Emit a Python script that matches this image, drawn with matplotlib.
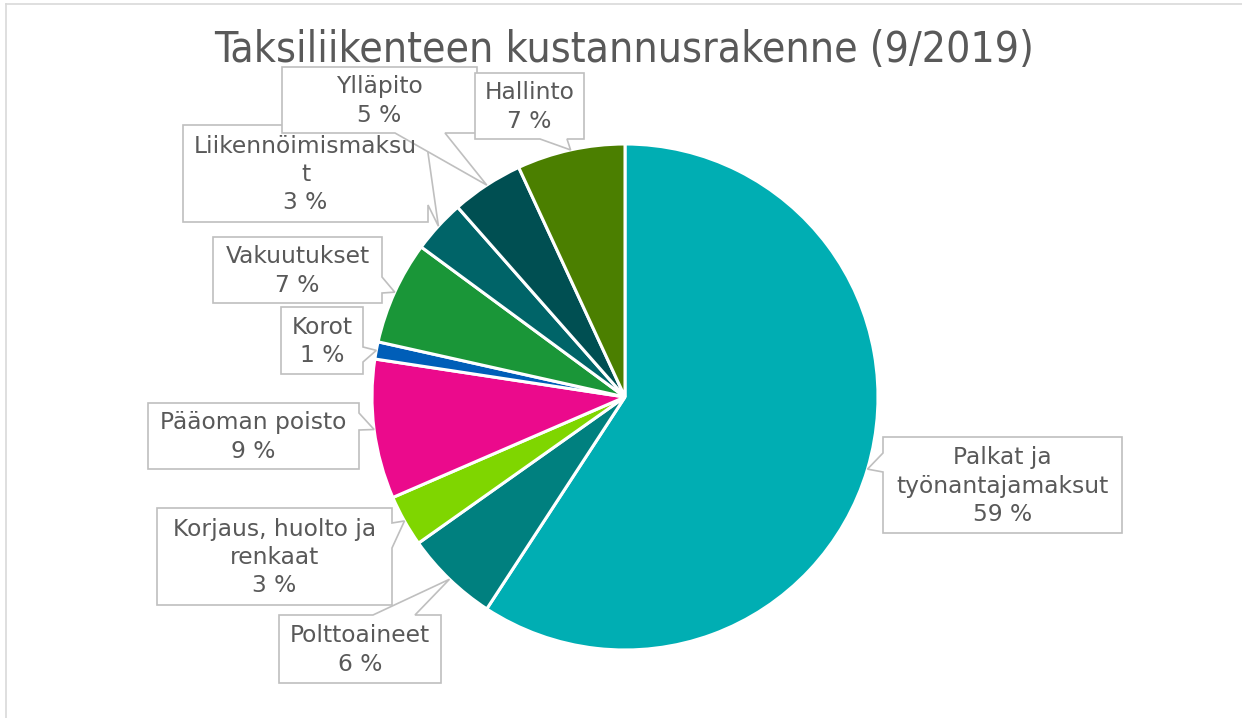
import matplotlib
matplotlib.use("Agg")
import matplotlib.pyplot as plt
import numpy as np
from matplotlib.patches import Polygon

# ---- data ----
categories = ["Palkat ja työnantajamaksut", "Polttoaineet", "Korjaus, huolto ja renkaat",
              "Pääoman poisto", "Korot", "Vakuutukset", "Liikennöimismaksut",
              "Ylläpito", "Hallinto"]
label_lines = ["Palkat ja\ntyönantajamaksut", "Polttoaineet", "Korjaus, huolto ja\nrenkaat",
               "Pääoman poisto", "Korot", "Vakuutukset", "Liikennöimismaksu\nt",
               "Ylläpito", "Hallinto"]
values = [59.2, 6.0, 3.3, 8.9, 1.1, 6.6, 3.4, 4.6, 6.9]
colors = ["#00AEB3", "#00807F", "#7FD600", "#EB0A8C", "#005EB8",
          "#1A9638", "#006468", "#004F52", "#4B7F00"]
title = "Taksiliikenteen kustannusrakenne (9/2019)"

W, H = 1242, 718
fig = plt.figure(figsize=(W / 100, H / 100), dpi=100)
fig.patch.set_facecolor("white")

# pie axes (pixel layout)
cx, cy, r = 625, 397, 253
ax = fig.add_axes([(cx - r) / W, (H - cy - r) / H, 2 * r / W, 2 * r / H])
wedges, _ = ax.pie(values, colors=colors, startangle=90, counterclock=False,
                   wedgeprops=dict(edgecolor="white", linewidth=2.2))
ax.set_xlim(-1, 1)
ax.set_ylim(-1, 1)
ax.set_aspect("equal")
ax.axis("off")

# overlay axes in pixel coordinates (y down)
ov = fig.add_axes([0, 0, 1, 1], zorder=5)
ov.set_xlim(0, W)
ov.set_ylim(H, 0)
ov.axis("off")
ov.patch.set_alpha(0)

# chart border lines
ov.plot([6, W], [4, 4], color="#D9D9D9", lw=1.2, clip_on=False)
ov.plot([6, 6], [4, H], color="#D9D9D9", lw=1.2, clip_on=False)

ov.text(624, 50, title, ha="center", va="center", fontsize=30.6, color="#595959",
        family="DejaVu Sans", fontstretch="condensed")

# callout layout: box (x0, y0, x1, y1), side, pointer base (b1, b2)
layout = [
    ((883, 437, 1122, 533), "left", (453, 472)),
    ((279, 615, 441, 683), "top", (373, 415)),
    ((157, 508, 392, 605), "right", (523, 548)),
    ((148, 403, 359, 469), "right", (413, 430)),
    ((281, 307, 363, 374), "right", (347, 362)),
    ((213, 237, 382, 303), "right", (277, 293)),
    ((183, 125, 428, 222), "right", (153, 205)),
    ((282, 67, 477, 133), "bottom", (395, 445)),
    ((475, 73, 584, 139), "bottom", (540, 567)),
]


def tip_point(w):
    mid = np.deg2rad((w.theta1 + w.theta2) / 2)
    pt = ax.transData.transform((np.cos(mid), np.sin(mid)))
    return ov.transData.inverted().transform(pt)


for w, name, v, (box, side, (b1, b2)) in zip(wedges, label_lines, values, layout):
    x0, y0, x1, y1 = box
    tx, ty = tip_point(w)
    tip = (tx, ty)
    verts = []
    verts.append((x0, y0))
    if side == "top":
        verts += [(b1, y0), tip, (b2, y0)]
    verts.append((x1, y0))
    if side == "right":
        verts += [(x1, b1), tip, (x1, b2)]
    verts.append((x1, y1))
    if side == "bottom":
        verts += [(b2, y1), tip, (b1, y1)]
    verts.append((x0, y1))
    if side == "left":
        verts += [(x0, b2), tip, (x0, b1)]
    ov.add_patch(Polygon(verts, closed=True, facecolor="white", edgecolor="#BFBFBF",
                         lw=1.2, joinstyle="miter"))
    ov.text((x0 + x1) / 2, (y0 + y1) / 2 + 1, f"{name}\n{v:.0f} %", ha="center",
            va="center", fontsize=16.8, color="#595959", linespacing=1.3,
            family="DejaVu Sans")

fig.savefig("out.png", dpi=100, facecolor="white")
